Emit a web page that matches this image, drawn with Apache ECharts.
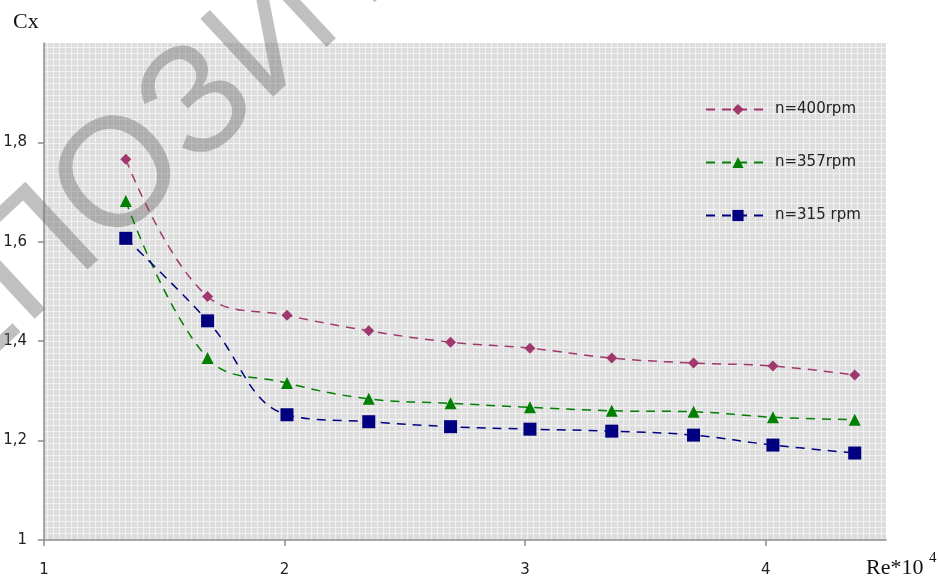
<!DOCTYPE html>
<html>
<head>
<meta charset="utf-8">
<script src="https://cdn.jsdelivr.net/npm/echarts@6/dist/echarts.min.js"></script>
<style>
html,body{margin:0;padding:0;background:#fff;}
#chart{width:938px;height:581px;}
</style>
</head>
<body>
<div id="chart"></div>
<script>
// Data
const reValues = [1.34, 1.68, 2.01, 2.35, 2.69, 3.02, 3.36, 3.70, 4.03, 4.37];
const cx400 = [1.766, 1.490, 1.452, 1.421, 1.398, 1.386, 1.366, 1.356, 1.350, 1.332];
const cx357 = [1.682, 1.366, 1.316, 1.284, 1.275, 1.267, 1.260, 1.258, 1.247, 1.242];
const cx315 = [1.607, 1.441, 1.252, 1.238, 1.228, 1.223, 1.219, 1.211, 1.191, 1.175];
const seriesNames = ['n=400rpm', 'n=357rpm', 'n=315 rpm'];
const xTickValues = [1, 2, 3, 4];
const watermarkText = 'РЕПОЗИТОРИЙ';

function pairs(xs, ys){ return xs.map((x,i)=>[x, ys[i]]); }

// grid pattern
const pat = document.createElement('canvas');
pat.width = 6; pat.height = 6;
const pc = pat.getContext('2d');
pc.fillStyle = '#f2f2f2'; pc.fillRect(0,0,6,6);
pc.fillStyle = '#dddddd'; pc.fillRect(0,0,5,5);

const chart = echarts.init(document.getElementById('chart'), null, {renderer:'canvas'});

const axisColor = '#8c8c8c';
const labelFont = {fontFamily:'DejaVu Sans', fontSize:15, color:'#222'};

const th = 0.75;
const option = {
  animation:false,
  backgroundColor:'#fff',
  grid:{left:44, top:43, right:52, bottom:41, show:true, borderWidth:0,
        backgroundColor:{image:pat, repeat:'repeat'}},
  xAxis:{
    type:'value', min:1, max:4.5, interval:1,
    axisLine:{show:true, onZero:false, lineStyle:{color:axisColor, width:1.5}},
    axisTick:{show:true, length:6, customValues:xTickValues, lineStyle:{color:axisColor, width:1.5}},
    axisLabel:Object.assign({margin:23, customValues:xTickValues,
      formatter:v=>String(v).replace('.',',')}, labelFont),
    splitLine:{show:false}
  },
  yAxis:{
    type:'value', min:1, max:2, interval:0.2,
    axisLine:{show:true, onZero:false, lineStyle:{color:axisColor, width:1.5}},
    axisTick:{show:true, length:6, lineStyle:{color:axisColor, width:1.5}},
    axisLabel:Object.assign({margin:17, showMaxLabel:false,
      formatter:v=> (Math.abs(v-2)<1e-9 ? '' : String(+v.toFixed(1)).replace('.',','))}, labelFont),
    splitLine:{show:false}
  },
  legend:{
    orient:'vertical', left:700, top:97, itemWidth:64, itemHeight:14, itemGap:38,
    textStyle:{fontFamily:'DejaVu Sans', fontSize:15, color:'#222'},
    data:seriesNames
  },
  graphic:[
    {type:'text', x:-155, y:437, rotation:th, z:1, silent:true,
     style:{text:watermarkText, x:0, y:0, textAlign:'left', textVerticalAlign:'middle',
            font:'155px "Liberation Sans"', fill:'rgba(118,118,118,0.46)'}},
    {type:'text', left:13, top:11, style:{text:'Cx', font:'22px "Liberation Serif"', fill:'#111'}},
    {type:'text', left:866, top:557, style:{text:'Re*10', font:'22px "Liberation Serif"', fill:'#111'}},
    {type:'text', left:929, top:551, style:{text:'4', font:'15px "Liberation Serif"', fill:'#111'}}
  ],
  series:[
    {name:seriesNames[0], type:'line', z:3, smooth:0.4, data:pairs(reValues,cx400),
     symbol:'diamond', symbolSize:11,
     itemStyle:{color:'#a0386e'}, lineStyle:{color:'#a0386e', width:1.5, type:[9,7]}},
    {name:seriesNames[1], type:'line', z:3, smooth:0.4, data:pairs(reValues,cx357),
     symbol:'triangle', symbolSize:12,
     itemStyle:{color:'#008000'}, lineStyle:{color:'#008000', width:1.5, type:[9,7]}},
    {name:seriesNames[2], type:'line', z:3, smooth:0.4, data:pairs(reValues,cx315),
     symbol:'rect', symbolSize:13,
     itemStyle:{color:'#000080'}, lineStyle:{color:'#000080', width:1.5, type:[9,7]}}
  ]
};
chart.setOption(option);
</script>
</body>
</html>
